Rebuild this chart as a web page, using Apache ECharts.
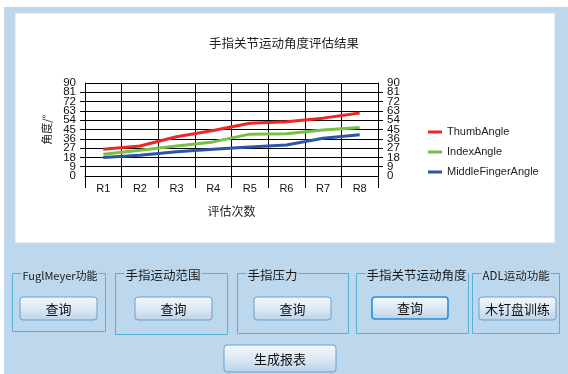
<!DOCTYPE html>
<html>
<head>
<meta charset="utf-8">
<script src="https://cdn.jsdelivr.net/npm/echarts@6/dist/echarts.min.js"></script>
<style>
  html, body { margin: 0; padding: 0; background: #fff; }
  #main { width: 568px; height: 374px; }
</style>
</head>
<body>
<div id="main"></div>
<script>
// 评估次数
const categories = ['R1', 'R2', 'R3', 'R4', 'R5', 'R6', 'R7', 'R8']
// 各手指角度
const thumbAngle = [26, 29, 38, 44, 51, 52.5, 56, 61]
const indexAngle = [21, 25, 29, 33, 40.5, 41, 44.5, 47]
const middleFingerAngle = [18, 20, 23.5, 26, 28, 30, 36.5, 40]

const cjk = 'Noto Sans CJK SC'
const latin = 'Liberation Sans'
const panelBlue = '#bdd8ec'

// 分组框
function groupBox(x, y, w, h, title, size) {
  return [
    {
      type: 'rect', z: -5,
      shape: { x: x, y: y, width: w, height: h },
      style: { fill: 'none', stroke: '#55b1d9', lineWidth: 1 }
    },
    {
      type: 'text', z: -4,
      style: {
        x: x + 9, y: y + 2, text: title,
        font: size + 'px "' + cjk + '"', fill: '#1a1a1a',
        verticalAlign: 'middle', backgroundColor: panelBlue, padding: [0, 1]
      }
    }
  ]
}

// 按钮
function button(x, y, w, h, label, focused) {
  return [
    {
      type: 'rect', z: -3,
      shape: { x: x, y: y, width: w, height: h, r: 3 },
      style: {
        fill: new echarts.graphic.LinearGradient(0, 0, 0, 1, [
          { offset: 0, color: '#f3f8fc' },
          { offset: 0.5, color: '#dde9f4' },
          { offset: 1, color: '#b9d2e9' }
        ]),
        stroke: focused ? '#2c8bd6' : '#6b9fcb',
        lineWidth: focused ? 1.6 : 1
      }
    },
    {
      type: 'text', z: -2,
      style: {
        x: x + w / 2, y: y + h / 2 + 0.5, text: label,
        font: '13px "' + cjk + '"', fill: '#111',
        align: 'center', verticalAlign: 'middle'
      }
    }
  ]
}

let elements = [
  { type: 'rect', z: -10, shape: { x: 4, y: 7, width: 564, height: 367 }, style: { fill: panelBlue } },
  { type: 'rect', z: -9, shape: { x: 15, y: 13, width: 540, height: 230 }, style: { fill: '#fff', stroke: '#d6dde3', lineWidth: 1 } }
]
elements = elements
  .concat(groupBox(12.5, 273.5, 93, 58, 'FuglMeyer功能', 11))
  .concat(groupBox(115.5, 273.5, 112, 61, '手指运动范围', 12.5))
  .concat(groupBox(237.5, 273.5, 111, 60, '手指压力', 12.5))
  .concat(groupBox(356.5, 273.5, 112, 60, '手指关节运动角度', 12.5))
  .concat(groupBox(472.5, 273.5, 87, 60, 'ADL运动功能', 11.5))
  .concat(button(20, 297, 77, 23, '查询'))
  .concat(button(135, 297, 77, 23, '查询'))
  .concat(button(254, 297, 77, 23, '查询'))
  .concat(button(372, 297, 76, 22, '查询', true))
  .concat(button(479, 297, 77, 23, '木钉盘训练'))
  .concat(button(224, 345, 112, 27, '生成报表'))

const myChart = echarts.init(document.getElementById('main'))

const yLabel = { fontSize: 11.5, fontFamily: latin, color: '#111', margin: 9 }

// 主刻度轴：显示 9..81 的标签、刻度线和网格
const yAxisMain = {
  type: 'value',
  min: 0,
  max: 90,
  interval: 9,
  axisLine: { show: true, lineStyle: { color: '#000', width: 1 } },
  axisTick: { show: true, length: 5, lineStyle: { color: '#000' } },
  axisLabel: Object.assign({ showMinLabel: false, showMaxLabel: false }, yLabel)
}
// 辅助轴：只显示 0 和 90
const yAxisEnds = {
  type: 'value',
  min: 0,
  max: 90,
  interval: 90,
  axisLine: { show: false },
  axisTick: { show: false },
  splitLine: { show: false },
  axisLabel: yLabel
}

const option = {
  animation: false,
  backgroundColor: '#fff',
  title: {
    text: '手指关节运动角度评估结果',
    left: 'center',
    top: 37,
    padding: 0,
    textStyle: { fontSize: 12.5, fontWeight: 'normal', color: '#222', fontFamily: cjk }
  },
  legend: {
    orient: 'vertical',
    left: 423,
    top: 120,
    itemGap: 6,
    itemWidth: 14,
    itemHeight: 3,
    icon: 'rect',
    textStyle: { fontSize: 11, fontFamily: latin, color: '#222', lineHeight: 14 },
    data: ['ThumbAngle', 'IndexAngle', 'MiddleFingerAngle']
  },
  grid: { left: 85, right: 190, top: 83, bottom: 198, containLabel: false },
  xAxis: {
    type: 'category',
    data: categories,
    boundaryGap: true,
    name: '评估次数',
    nameLocation: 'middle',
    nameGap: 29,
    nameTextStyle: { fontSize: 12, fontFamily: cjk, color: '#222' },
    axisLine: { show: true, lineStyle: { color: '#000', width: 1 } },
    axisTick: { show: true, length: 12, interval: 0, alignWithLabel: false, lineStyle: { color: '#000' } },
    axisLabel: { fontSize: 11, fontFamily: latin, color: '#111', margin: 7, interval: 0 },
    splitLine: { show: true, interval: 0, lineStyle: { color: '#000', width: 1 } }
  },
  yAxis: [
    Object.assign({}, yAxisMain, {
      position: 'left',
      name: '角度/°',
      nameLocation: 'middle',
      nameRotate: 90,
      nameGap: 30,
      nameTextStyle: { fontSize: 11, fontFamily: cjk, color: '#222' },
      splitLine: { show: true, lineStyle: { color: '#000', width: 1 } }
    }),
    Object.assign({}, yAxisMain, {
      position: 'right',
      splitLine: { show: false }
    }),
    Object.assign({}, yAxisEnds, { position: 'left', offset: 0 }),
    Object.assign({}, yAxisEnds, { position: 'right', offset: 0 })
  ],
  graphic: { elements: elements },
  series: [
    {
      name: 'ThumbAngle', type: 'line', data: thumbAngle,
      showSymbol: false, color: '#ef2626',
      lineStyle: { width: 3 }
    },
    {
      name: 'IndexAngle', type: 'line', data: indexAngle,
      showSymbol: false, color: '#77c044',
      lineStyle: { width: 3 }
    },
    {
      name: 'MiddleFingerAngle', type: 'line', data: middleFingerAngle,
      showSymbol: false, color: '#2b55a6',
      lineStyle: { width: 3 }
    }
  ]
}
myChart.setOption(option)
</script>
</body>
</html>
